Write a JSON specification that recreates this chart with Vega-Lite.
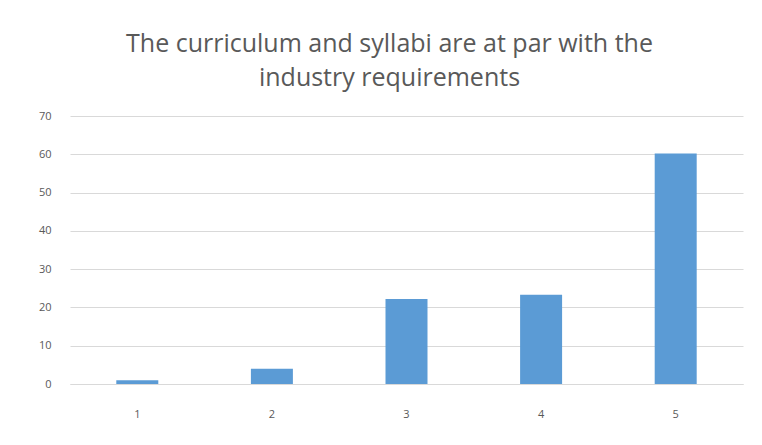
{
  "$schema": "https://vega.github.io/schema/vega-lite/v6.json",
  "autosize": "none",
  "width": 673,
  "height": 268,
  "padding": {"left": 70, "top": 116, "right": 19, "bottom": 61},
  "background": "white",
  "title": {
    "text": ["The curriculum and syllabi are at par with the", "industry requirements"],
    "font": "Open Sans",
    "fontSize": 25,
    "fontWeight": "normal",
    "color": "#595959",
    "lineHeight": 34,
    "anchor": "middle",
    "dx": -17,
    "offset": 19
  },
  "data": {
    "values": [
      {"rating": "1", "value": 1.0},
      {"rating": "2", "value": 4.0},
      {"rating": "3", "value": 22.2},
      {"rating": "4", "value": 23.3},
      {"rating": "5", "value": 60.2}
    ]
  },
  "mark": {"type": "bar", "color": "#5b9bd5"},
  "encoding": {
    "x": {
      "field": "rating",
      "type": "ordinal",
      "scale": {"paddingInner": 0.688, "paddingOuter": 0.344},
      "axis": {
        "title": null,
        "labelAngle": 0,
        "domain": true,
        "domainColor": "#d9d9d9",
        "ticks": false,
        "tickSize": 0,
        "labelPadding": 24,
        "labelFont": "Open Sans",
        "labelFontSize": 11,
        "labelColor": "#595959"
      }
    },
    "y": {
      "field": "value",
      "type": "quantitative",
      "scale": {"domain": [0, 70]},
      "axis": {
        "title": null,
        "values": [0, 10, 20, 30, 40, 50, 60, 70],
        "domain": false,
        "ticks": false,
        "tickSize": 0,
        "labelPadding": 19,
        "labelFont": "Open Sans",
        "labelFontSize": 11,
        "labelColor": "#595959",
        "gridColor": "#d9d9d9",
        "gridWidth": 1
      }
    }
  },
  "config": {"view": {"stroke": null}}
}
